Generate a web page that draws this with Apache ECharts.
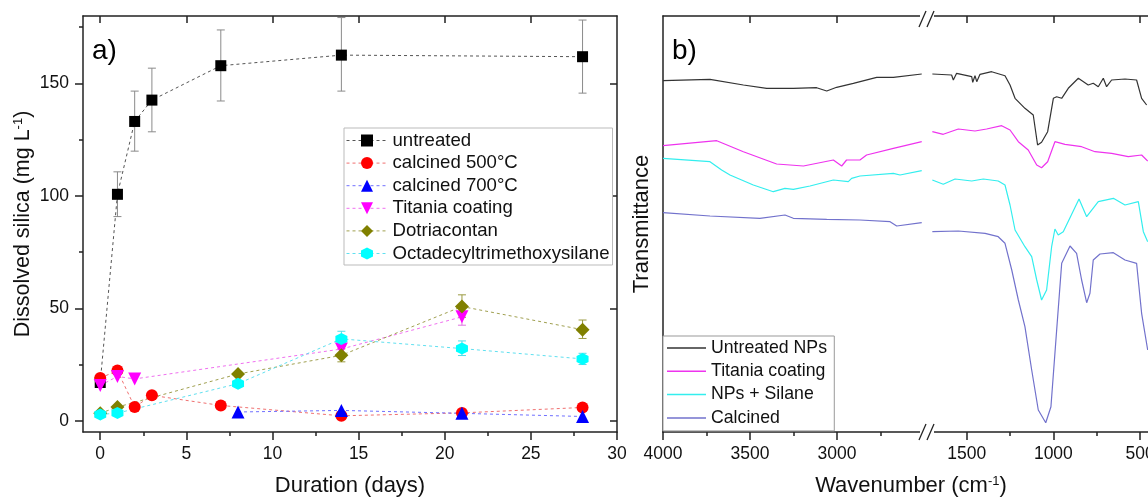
<!DOCTYPE html>
<html><head><meta charset="utf-8">
<script src="https://cdn.jsdelivr.net/npm/echarts@6/dist/echarts.min.js"></script>
<style>html,body{margin:0;padding:0;background:#fff}#c{width:1148px;height:497px}</style>
</head><body><div id="c"></div>
<script>
// ---------- Panel a data: [day, dissolved silica mg/L] ----------
const untreated = [[0,17],[1,100.7],[2,133.1],[3,142.6],[7,157.9],[14,162.6],[28,161.9]];
const calcined500 = [[0,19],[1,22.3],[2,6.1],[3,11.3],[7,6.8],[14,2.2],[21,3.5],[28,5.9]];
const calcined700 = [[8,3.9],[14,4.6],[21,3.3],[28,1.9]];
const titania = [[0,15.7],[1,19.7],[2,18.6],[14,31.9],[21,46.2]];
const dotriacontan = [[0,3.3],[1,6.1],[8,20.8],[14,29.1],[21,50.8],[28,40.5]];
const octadecyl = [[0,2.8],[1,3.4],[8,16.5],[14,36.4],[21,32.1],[28,27.5]];
// error bars: [day, low, high]
const untreatedErr = [[1,90.8,110.7],[2,119.9,146.6],[3,128.5,156.8],[7,142.2,173.8],[14,146.6,179.3],[28,145.7,178.2]];
const titaniaErr = [[14,29.5,34.3],[21,42.5,50]];
const dotriErr = [[14,26.2,32],[21,46,56],[28,36.6,44.8]];
const octaErr = [[14,33,39.8],[21,29,35.5],[28,25,30]];
const xMajorA = [0,5,10,15,20,25,30];
const xMinorA = [2.5,7.5,12.5,17.5,22.5,27.5];
const yMajorA = [0,50,100,150];
const yMinorA = [25,75,125,175];

// ---------- Panel b data: [wavenumber cm-1, transmittance (arb.)] ----------
const untrNPsHigh = [[4000,351.3],[3730,352.7],[3538,347],[3404,343.7],[3251,343.7],[3117,344.3],[3059,341],[3002,344.7],[2906,348.7],[2772,354.7],[2676,354.7],[2513,358]];
const untrNPsLow = [[1698,358],[1587,357],[1577,352],[1558,358.7],[1471,355.3],[1465,349.7],[1452,356.3],[1442,350.3],[1423,357.7],[1356,360.3],[1279,356.3],[1250,347],[1221,333.7],[1164,323.7],[1116,317],[1091,287],[1068,289.7],[1033,300.3],[1000,333.7],[981,335.3],[952,333.7],[914,343.7],[856,353.7],[799,347],[770,348.7],[741,345.3],[712,353.7],[693,345.3],[664,352],[587,353],[520,352],[491,333.7],[462,327]];
const titaniaHigh = [[4000,286.3],[3691,291.3],[3538,280.3],[3347,268],[3193,266],[3021,272],[2973,266],[2945,272],[2868,272],[2830,277],[2676,283.7],[2513,290.3]];
const titaniaLow = [[1698,300.3],[1635,297.7],[1548,303],[1452,301],[1385,303],[1298,306.3],[1250,302],[1202,290.3],[1145,282],[1096,267],[1068,264.3],[1033,270.3],[991,290.3],[933,287.7],[837,285.3],[760,280.3],[664,278.7],[568,275.3],[491,277],[456,271]];
const silaneHigh = [[4000,273.7],[3730,270.3],[3663,262],[3615,257],[3481,247],[3366,240.3],[3299,243.7],[3251,242.7],[3155,246],[3021,252],[2935,250.3],[2916,253.7],[2868,256],[2676,258.7],[2638,257],[2513,261.3]];
const silaneLow = [[1698,252],[1635,247.7],[1567,253],[1471,251],[1404,253],[1318,251],[1279,247],[1250,227],[1221,202],[1164,185.3],[1125,175.3],[1096,152],[1068,132],[1039,142],[1010,185.3],[991,203],[972,197],[962,195.3],[943,200.3],[933,202],[852,233],[808,215.3],[741,230.3],[654,233.7],[587,227],[510,230.3],[481,200.3],[456,190.3]];
const calcHigh = [[4000,219.3],[3730,216],[3443,213.7],[3299,217],[3251,213.7],[3059,212.7],[2868,212],[2695,210.3],[2657,206],[2513,209.3]];
const calcLow = [[1698,200.3],[1548,201],[1394,198.7],[1318,195.3],[1279,188.7],[1240,162],[1202,132],[1164,105.3],[1125,62],[1087,22],[1044,9.3],[1014,25.3],[981,102],[952,168.7],[904,186],[866,178.7],[837,152],[808,129.3],[789,138.7],[770,172],[731,178],[654,179.3],[587,172],[520,168.7],[491,118.7],[456,82]];
const xMajorBH = [4000,3500,3000];
const xMinorBH = [3750,3250,2750];
const xMajorBL = [1500,1000,500];
const xMinorBL = [1250,750];

const FONT = "'Liberation Sans', Arial, sans-serif";
const AX = '#222';
const chart = echarts.init(document.getElementById('c'));

function errRender(color){
  return function(params, api){
    const x = api.value(0), lo = api.value(1), hi = api.value(2);
    const p1 = api.coord([x, lo]), p2 = api.coord([x, hi]);
    const w = 4;
    const style = {stroke: color, lineWidth: 1, fill: null};
    return {type:'group', children:[
      {type:'line', shape:{x1:p1[0],y1:p1[1],x2:p2[0],y2:p2[1]}, style},
      {type:'line', shape:{x1:p1[0]-w,y1:p1[1],x2:p1[0]+w,y2:p1[1]}, style},
      {type:'line', shape:{x1:p2[0]-w,y1:p2[1],x2:p2[0]+w,y2:p2[1]}, style}
    ]};
  };
}
function errSeries(name, data, color){
  return {type:'custom', name, data, xAxisIndex:0, yAxisIndex:0, encode:{x:0,y:[1,2]},
    renderItem: errRender(color), z:1, silent:true};
}
function lineA(name, data, color, lcolor, symbol, size, extra){
  return Object.assign({type:'line', name, data, xAxisIndex:0, yAxisIndex:0,
    symbol, symbolSize:size, itemStyle:{color},
    lineStyle:{color:lcolor, width:1, type:[3,3]}, z:3, animation:false}, extra||{});
}
function lineB(name, data, color, xi, yi){
  return {type:'line', name, data, xAxisIndex:xi, yAxisIndex:yi, symbol:'none',
    itemStyle:{color}, lineStyle:{color, width:1.2}, animation:false};
}
const hexagon = 'path://M0,-10 L8.66,-5 L8.66,5 L0,10 L-8.66,5 L-8.66,-5Z';
const plain = v => String(v);
const labelStyle = {fontFamily:FONT, fontSize:17.5, color:'#111', formatter: plain};
const axLine = {show:true, onZero:false, lineStyle:{color:AX, width:1.5}};

const option = {
  backgroundColor:'#fff',
  animation:false,
  textStyle:{fontFamily:FONT},
  title:[
    {text:'a)', left:92, top:37, padding:0, textStyle:{fontFamily:FONT, fontSize:28, fontWeight:'normal', color:'#000'}},
    {text:'b)', left:672, top:37, padding:0, textStyle:{fontFamily:FONT, fontSize:28, fontWeight:'normal', color:'#000'}}
  ],
  grid:[
    {left:83, top:16, width:534, height:416, outerBoundsMode:'none', containLabel:false},
    {left:663, top:16, width:261, height:416, outerBoundsMode:'none', containLabel:false},
    {left:932, top:16, width:225.4, height:416, outerBoundsMode:'none', containLabel:false},
    {left:663, top:16, width:496, height:416, outerBoundsMode:'none', containLabel:false}
  ],
  legend:[
    {data:['untreated','calcined 500°C','calcined 700°C','Titania coating','Dotriacontan','Octadecyltrimethoxysilane'],
     orient:'vertical', left:344, top:128, itemWidth:41, itemHeight:15, itemGap:3.6,
     padding:[3,3,2,2], borderColor:'#bbb', borderWidth:1, backgroundColor:'#fff',
     lineStyle:{type:[3,3], width:1},
     textStyle:{fontFamily:FONT, fontSize:18.6, color:'#111'}},
    {data:['Untreated NPs','Titania coating ','NPs + Silane','Calcined'],
     orient:'vertical', left:663, top:336, icon:'rect', itemWidth:39, itemHeight:1.5, itemGap:5.3,
     padding:[3,4,4,4], borderColor:'#999', borderWidth:1, backgroundColor:'#fff',
     textStyle:{fontFamily:FONT, fontSize:17.7, color:'#111'}}
  ],
  xAxis:[
    {gridIndex:0, type:'value', position:'bottom', min:-1, max:30, axisLine:axLine, splitLine:{show:false},
     axisTick:{show:true, customValues:xMajorA, length:8, lineStyle:{color:AX, width:1.5}},
     axisLabel:{customValues:xMajorA, margin:13, ...labelStyle},
     name:'Duration (days)', nameLocation:'middle', nameGap:43,
     nameTextStyle:{fontFamily:FONT, fontSize:22, color:'#111'}},
    {gridIndex:0, type:'value', position:'bottom', min:-1, max:30, axisLine:{show:false, onZero:false}, splitLine:{show:false},
     axisTick:{show:true, customValues:xMinorA, length:4, lineStyle:{color:AX, width:1.5}}, axisLabel:{show:false}},
    {gridIndex:0, type:'value', position:'top', min:-1, max:30, axisLine:axLine, splitLine:{show:false},
     axisTick:{show:true, inside:true, customValues:[0,5,10,15,20,25], length:7, lineStyle:{color:AX, width:1.5}}, axisLabel:{show:false}},
    {gridIndex:1, type:'value', position:'bottom', min:2500, max:4000, inverse:true, axisLine:axLine, splitLine:{show:false},
     axisTick:{show:true, customValues:xMajorBH, length:8, lineStyle:{color:AX, width:1.5}},
     axisLabel:{customValues:xMajorBH, margin:13, ...labelStyle}},
    {gridIndex:1, type:'value', position:'bottom', min:2500, max:4000, inverse:true, axisLine:{show:false, onZero:false}, splitLine:{show:false},
     axisTick:{show:true, customValues:xMinorBH, length:4, lineStyle:{color:AX, width:1.5}}, axisLabel:{show:false}},
    {gridIndex:1, type:'value', position:'top', min:2500, max:4000, inverse:true, axisLine:axLine, splitLine:{show:false},
     axisTick:{show:true, inside:true, customValues:[3500,3000], length:7, lineStyle:{color:AX, width:1.5}}, axisLabel:{show:false}},
    {gridIndex:2, type:'value', position:'bottom', min:400, max:1700, inverse:true, axisLine:axLine, splitLine:{show:false},
     axisTick:{show:true, customValues:xMajorBL, length:8, lineStyle:{color:AX, width:1.5}},
     axisLabel:{customValues:xMajorBL, margin:13, ...labelStyle}},
    {gridIndex:2, type:'value', position:'bottom', min:400, max:1700, inverse:true, axisLine:{show:false, onZero:false}, splitLine:{show:false},
     axisTick:{show:true, customValues:xMinorBL, length:4, lineStyle:{color:AX, width:1.5}}, axisLabel:{show:false}},
    {gridIndex:2, type:'value', position:'top', min:400, max:1700, inverse:true, axisLine:axLine, splitLine:{show:false},
     axisTick:{show:true, inside:true, customValues:xMajorBL, length:7, lineStyle:{color:AX, width:1.5}}, axisLabel:{show:false}},
    {gridIndex:3, type:'value', position:'bottom', min:0, max:1, axisLine:{show:false, onZero:false}, axisTick:{show:false},
     axisLabel:{show:false}, splitLine:{show:false},
     name:'{n|Wavenumber (cm}{s|-1}{n|)}', nameLocation:'middle', nameGap:43,
     nameTextStyle:{rich:{n:{fontFamily:FONT, fontSize:22, color:'#111'}, s:{fontFamily:FONT, fontSize:13, color:'#111', verticalAlign:'top', lineHeight:22}}}}
  ],
  yAxis:[
    {gridIndex:0, type:'value', position:'left', min:-5, max:180, axisLine:axLine, splitLine:{show:false},
     axisTick:{show:true, customValues:yMajorA, length:8, lineStyle:{color:AX, width:1.5}},
     axisLabel:{customValues:yMajorA, margin:14, ...labelStyle},
     name:'{n|Dissolved silica (mg L}{s|-1}{n|)}', nameLocation:'middle', nameGap:49, nameRotate:90,
     nameTextStyle:{rich:{n:{fontFamily:FONT, fontSize:21.5, color:'#111'}, s:{fontFamily:FONT, fontSize:13, color:'#111', verticalAlign:'top', lineHeight:22}}}},
    {gridIndex:0, type:'value', position:'left', min:-5, max:180, axisLine:{show:false, onZero:false}, splitLine:{show:false},
     axisTick:{show:true, customValues:yMinorA, length:4, lineStyle:{color:AX, width:1.5}}, axisLabel:{show:false}},
    {gridIndex:0, type:'value', position:'right', min:-5, max:180, axisLine:axLine, splitLine:{show:false},
     axisTick:{show:true, inside:true, customValues:yMajorA, length:7, lineStyle:{color:AX, width:1.5}}, axisLabel:{show:false}},
    {gridIndex:1, type:'value', position:'left', min:0, max:416, axisLine:axLine, axisTick:{show:false}, axisLabel:{show:false}, splitLine:{show:false},
     name:'Transmittance', nameLocation:'middle', nameGap:10, nameRotate:90,
     nameTextStyle:{fontFamily:FONT, fontSize:22, color:'#111'}},
    {gridIndex:2, type:'value', min:0, max:416, show:false, splitLine:{show:false}},
    {gridIndex:3, type:'value', min:0, max:1, show:false, splitLine:{show:false}}
  ],
  graphic:[
    {type:'rect', shape:{x:920, y:8, width:14, height:16}, style:{fill:'#fff'}, z:50},
    {type:'rect', shape:{x:920, y:424, width:14, height:16}, style:{fill:'#fff'}, z:50},
    {type:'line', shape:{x1:919, y1:27, x2:926, y2:11}, style:{stroke:AX, lineWidth:1.3}, z:51},
    {type:'line', shape:{x1:927, y1:27, x2:934, y2:11}, style:{stroke:AX, lineWidth:1.3}, z:51},
    {type:'line', shape:{x1:919, y1:440, x2:926, y2:424}, style:{stroke:AX, lineWidth:1.3}, z:51},
    {type:'line', shape:{x1:927, y1:440, x2:934, y2:424}, style:{stroke:AX, lineWidth:1.3}, z:51}
  ],
  series:[
    errSeries('err untreated', untreatedErr, '#8a8a8a'),
    errSeries('err titania', titaniaErr, '#e070e0'),
    errSeries('err dotri', dotriErr, '#9a9a40'),
    errSeries('err octa', octaErr, '#50dde8'),
    lineA('untreated', untreated, '#000000', '#555555', 'rect', 11),
    lineA('calcined 500°C', calcined500, '#ff0000', '#f07070', 'circle', 12),
    lineA('calcined 700°C', calcined700, '#0000ff', '#7070ff', 'triangle', 13),
    lineA('Titania coating', titania, '#ff00ff', '#f070f0', 'triangle', 13, {symbolRotate:180}),
    lineA('Dotriacontan', dotriacontan, '#808000', '#a0a050', 'diamond', 14),
    lineA('Octadecyltrimethoxysilane', octadecyl, '#00ffff', '#60e0f0', hexagon, 12),
    lineB('Untreated NPs', untrNPsHigh, '#333333', 3, 3),
    lineB('Untreated NPs', untrNPsLow, '#333333', 6, 4),
    lineB('Titania coating ', titaniaHigh, '#ee33ee', 3, 3),
    lineB('Titania coating ', titaniaLow, '#ee33ee', 6, 4),
    lineB('NPs + Silane', silaneHigh, '#33eeee', 3, 3),
    lineB('NPs + Silane', silaneLow, '#33eeee', 6, 4),
    lineB('Calcined', calcHigh, '#7272cc', 3, 3),
    lineB('Calcined', calcLow, '#7272cc', 6, 4)
  ]
};
chart.setOption(option);
</script></body></html>
